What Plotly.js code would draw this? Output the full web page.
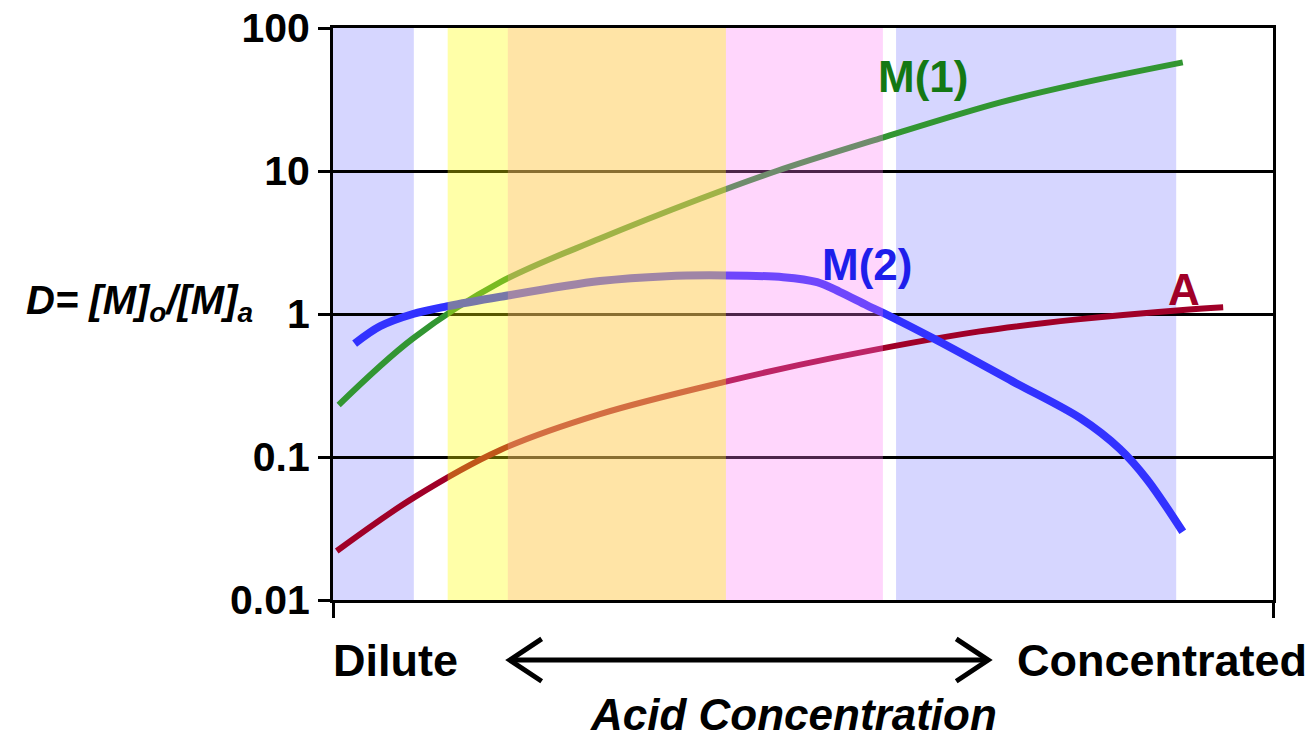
<!DOCTYPE html>
<html>
<head>
<meta charset="utf-8">
<script src="https://cdn.plot.ly/plotly-3.0.1.min.js"></script>
<style>html,body{margin:0;padding:0;background:#fff;}#chart{width:1315px;height:743px;}</style>
</head>
<body>
<div id="chart"></div>
<script>
// Acid concentration (relative, 0 = dilute, 100 = concentrated)
const m1X = [0.6, 8.5, 17.8, 28.4, 39.0, 47.2, 58.2, 71.0, 79.5, 90.4];
const m1D = [0.231, 0.674, 1.67, 3.37, 6.37, 10, 16.9, 30.2, 41, 57.5];

const m2X = [2.3, 5.0, 8.5, 12.1, 17.8, 28.4, 35.5, 41.9, 47.9, 51.5, 53.9, 56.8, 58.5, 64.3, 72.3, 79.5, 83.7, 86.6, 90.4];
const m2D = [0.621, 0.82, 1.0, 1.13, 1.32, 1.70, 1.84, 1.86, 1.81, 1.67, 1.43, 1.15, 1.02, 0.652, 0.338, 0.187, 0.114, 0.0697, 0.030];

const aX = [0.4, 8.6, 17.8, 28.4, 41.9, 53.2, 68.8, 79.5, 90.1, 94.7];
const aD = [0.022, 0.052, 0.112, 0.1995, 0.338, 0.493, 0.756, 0.921, 1.064, 1.114];

// Shaded concentration regimes (x range)
const regionStart = [0, 59.9, 18.6, 12.2];
const regionEnd   = [8.6, 89.7, 58.5, 41.8];
const regionColor = ['rgb(120,120,255)', 'rgb(120,120,255)', 'rgb(255,120,245)', 'rgb(255,255,0)'];
const regionLayer = ['below', 'below', 'above', 'above'];

const yTickVals = [0.01, 0.1, 1, 10, 100];
const yTickText = ['0.01', '0.1', '1', '10', '100'];

const FONT = 'Liberation Sans, Arial, sans-serif';

const traces = [
  {x: m1X, y: m1D, mode: 'lines', line: {color: 'rgb(50,150,50)', width: 6, shape: 'spline', smoothing: 1}, name: 'M(1)'},
  {x: aX, y: aD, mode: 'lines', line: {color: 'rgb(160,0,40)', width: 6, shape: 'spline', smoothing: 1}, name: 'A'},
  {x: m2X, y: m2D, mode: 'lines', line: {color: 'rgb(50,50,255)', width: 8, shape: 'spline', smoothing: 0.9}, name: 'M(2)'}
];

const shapes = regionStart.map((s, i) => ({
  type: 'rect', xref: 'x', yref: 'paper', x0: s, x1: regionEnd[i], y0: 0, y1: 1,
  fillcolor: regionColor[i], opacity: i === 3 ? 0.34 : 0.3, line: {width: 0}, layer: regionLayer[i]
}));

// double-headed arrow under the axis
const ay = -0.105;
shapes.push({type: 'path', xref: 'paper', yref: 'paper',
  path: `M 0.188,${ay} L 0.697,${ay}`, line: {color: 'black', width: 5}});
shapes.push({type: 'path', xref: 'paper', yref: 'paper',
  path: `M 0.222,${ay + 0.037} L 0.188,${ay} L 0.222,${ay - 0.037}`, line: {color: 'black', width: 5}});
shapes.push({type: 'path', xref: 'paper', yref: 'paper',
  path: `M 0.663,${ay + 0.037} L 0.697,${ay} L 0.663,${ay - 0.037}`, line: {color: 'black', width: 5}});

const bold = (size, color, style) => ({family: FONT, size: size, color: color || 'black', weight: 'bold', style: style || 'normal'});
const ann = (text, x, y, font, extra) => Object.assign({text: text, xref: 'paper', yref: 'paper', x: x, y: y,
  xanchor: 'center', yanchor: 'middle', showarrow: false, font: font}, extra || {});

const annotations = [
  ann('M(1)', 0.628, 0.915, bold(44, 'rgb(20,120,20)')),
  ann('M(2)', 0.568, 0.587, bold(44, 'rgb(30,30,235)')),
  ann('A', 0.905, 0.542, bold(44, 'rgb(160,0,40)')),
  ann('Dilute', 0.066, -0.105, bold(45)),
  ann('Concentrated', 0.882, -0.105, bold(45)),
  ann('Acid Concentration', 0.490, -0.2, bold(44, 'black', 'italic')),
  ann('D= [M]<sub>o</sub>/[M]<sub>a</sub>', -0.083, 0.52, bold(40, 'black', 'italic'), {xanchor: 'right'})
];

const layout = {
  width: 1315, height: 743,
  margin: {l: 333, r: 42, t: 28, b: 143},
  paper_bgcolor: 'white', plot_bgcolor: 'white',
  showlegend: false,
  xaxis: {range: [0, 100], showgrid: false, zeroline: false, showline: true, linecolor: 'black', linewidth: 3,
          mirror: true, ticks: 'outside', tickvals: [0, 100], ticklen: 15, tickwidth: 3, tickcolor: 'black', showticklabels: false},
  yaxis: {type: 'log', range: [-2, 2], showgrid: true, gridcolor: 'black', gridwidth: 3, zeroline: false,
          showline: true, linecolor: 'black', linewidth: 3, mirror: true,
          ticks: 'outside', ticklen: 12, tickwidth: 3, tickcolor: 'black',
          tickmode: 'array', tickvals: yTickVals, ticktext: yTickText,
          tickfont: bold(41)},
  shapes: shapes,
  annotations: annotations
};

Plotly.newPlot('chart', traces, layout, {staticPlot: true, displayModeBar: false});
</script>
</body>
</html>
